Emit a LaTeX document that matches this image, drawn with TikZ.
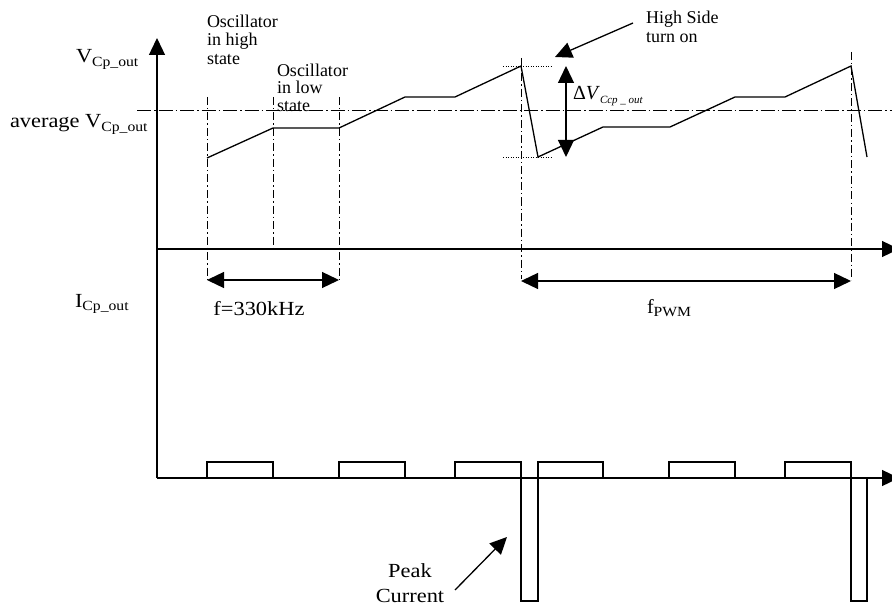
\documentclass[tikz,border=0pt]{standalone}
\usepackage{fontspec}
\setmainfont{Liberation Serif}
\usetikzlibrary{arrows.meta}
\newcommand\fbig{\fontsize{20}{25}\selectfont\addfontfeatures{FakeStretch=1.12}}
\newcommand\fmid{\fontsize{18}{18.5}\selectfont}
\newcommand\mysub[1]{\raisebox{-3.5pt}{\fontsize{14}{14}\selectfont\addfontfeatures{FakeStretch=1.12}#1}}
\begin{document}
\begin{tikzpicture}[x=1pt,y=-1pt,
  tip/.style={-{Triangle[length=17pt,width=16pt]}},
  axisline/.style={line width=1.3pt,tip},
  wave/.style={line width=1.3pt,line join=miter},
  guide/.style={line width=1pt,dash pattern=on 8pt off 3pt on 1.5pt off 3pt},
  avgline/.style={line width=1pt,dash pattern=on 14pt off 3pt on 1.5pt off 3pt},
  dotln/.style={line width=0.8pt,dash pattern=on 1pt off 1.5pt},
  dimline/.style={line width=1.3pt,{Triangle[length=17pt,width=16pt]}-{Triangle[length=17pt,width=16pt]}},
  pointer/.style={line width=1.3pt,tip},
  lbl/.style={inner sep=0pt,outer sep=0pt}]
\useasboundingbox (0,0) rectangle (892,607);

% axes
\coordinate (ytop) at (157,38);
\coordinate (orig) at (157,478);
\coordinate (vax) at (157,249);
\coordinate (vend) at (899,249);
\coordinate (iend) at (899,478);
\draw[axisline] (orig) -- (ytop);
\draw[axisline] (vax) -- (vend);
\draw[axisline] (orig) -- (iend);

% average line
\coordinate (avgA) at (137,111);
\coordinate (avgB) at (892,111);
\draw[avgline] (avgA) -- (avgB);

% guides
\coordinate (g1t) at (207,97);  \coordinate (g1b) at (207,279);
\coordinate (g2t) at (273,97);  \coordinate (g2b) at (273,249);
\coordinate (g3t) at (339,97);  \coordinate (g3b) at (339,279);
\coordinate (g4t) at (521,58);  \coordinate (g4b) at (521,279);
\coordinate (g5t) at (851,52);  \coordinate (g5b) at (851,280);
\draw[guide] (g1t) -- (g1b);
\draw[guide] (g2t) -- (g2b);
\draw[guide] (g3t) -- (g3b);
\draw[guide] (g4t) -- (g4b);
\draw[guide] (g5t) -- (g5b);

% dimension arrows
\coordinate (fA) at (207,280); \coordinate (fB) at (339,280);
\coordinate (pA) at (521,281); \coordinate (pB) at (851,281);
\draw[dimline] (fA) -- (fB);
\draw[dimline] (pA) -- (pB);

% voltage waveform
\draw[wave] (207,158) -- (273,128) -- (339,128) -- (405,97) -- (455,97) -- (521,66)
  -- (538,157) -- (603,127) -- (670,127) -- (735,97) -- (785,97) -- (851,66) -- (867,157);

% dotted limits
\coordinate (dtA) at (503,66); \coordinate (dtB) at (553,66);
\coordinate (dbA) at (503,157); \coordinate (dbB) at (553,157);
\draw[dotln] (dtA) -- (dtB);
\draw[dotln] (dbA) -- (dbB);

% delta V arrow
\coordinate (dvT) at (566,66); \coordinate (dvB) at (566,157);
\draw[dimline] (dvT) -- (dvB);

% high side pointer
\coordinate (hsA) at (633,23); \coordinate (hsB) at (555,57);
\draw[pointer] (hsA) -- (hsB);

% current waveform
\draw[wave] (207,478) -- (207,462) -- (273,462) -- (273,478);
\draw[wave] (339,478) -- (339,462) -- (405,462) -- (405,478);
\draw[wave] (455,478) -- (455,462) -- (521,462) -- (521,601) -- (538,601) -- (538,462) -- (603,462) -- (603,478);
\draw[wave] (669,478) -- (669,462) -- (735,462) -- (735,478);
\draw[wave] (785,478) -- (785,462) -- (851,462) -- (851,601) -- (867,601) -- (867,478);

% peak current pointer
\coordinate (pcA) at (455,590); \coordinate (pcB) at (507,537);
\draw[pointer] (pcA) -- (pcB);

% labels
\node[lbl,anchor=base west] (vlab) at (76,63) {\fbig V\mysub{Cp\_out}};
\node[lbl,anchor=base west] (avglab) at (10,128) {\fbig average V\mysub{Cp\_out}};
\node[lbl,anchor=base west] (ilab) at (75,307) {\fbig I\mysub{Cp\_out}};
\node[lbl,anchor=base] (flab) at (259,315) {\fbig f=330kHz};
\node[lbl,anchor=base west] (pwmlab) at (647,313) {\fontsize{20}{20}\selectfont f\mysub{PWM}};
\node[lbl,anchor=base west] (dvlab) at (573,100) {\fontsize{20}{20}\selectfont Δ\textit{V}\raisebox{-4pt}{\fontsize{11}{11}\selectfont\itshape Ccp \_ out}};
\node[lbl,anchor=north west,align=left,font=\fmid] (osch) at (207,15) {Oscillator\\in high\\state};
\node[lbl,anchor=north west,align=left,font={\fontsize{18}{17.5}\selectfont}] (oscl) at (277,64) {Oscillator\\in low\\state};
\node[lbl,anchor=north west,align=left,font={\fontsize{18}{19}\selectfont}] (hslab) at (646,11) {High Side\\turn on};
\node[lbl,anchor=north,align=center,font=\fbig] (pclab) at (410,564) {Peak\\Current};
\end{tikzpicture}
\end{document}
